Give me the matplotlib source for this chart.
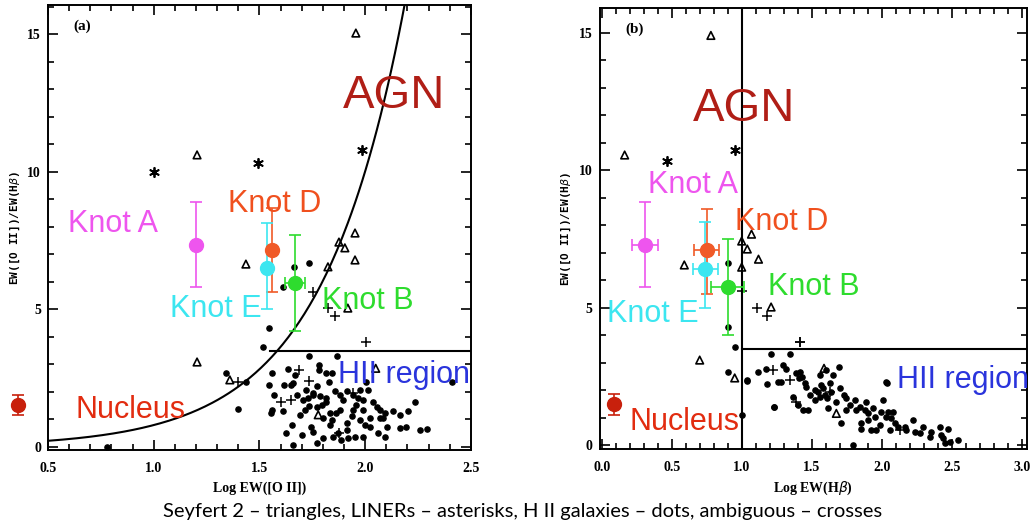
import matplotlib
matplotlib.use("Agg")
import matplotlib.pyplot as plt
import numpy as np
from matplotlib.ticker import MultipleLocator

# ---- panel (a): Log EW([O II]) vs EW([O II])/EW(Hb) ----
a_dots_x = [1.518, 1.736, 1.869, 1.341, 1.436, 1.558, 1.637, 1.547, 1.616, 1.657, 1.668, 1.784, 1.784,
            1.815, 1.842, 1.827, 1.771, 1.720, 1.755, 1.786, 1.817, 1.857, 1.880, 1.912, 1.943, 1.967,
            1.991, 2.014, 2.038, 2.054, 2.069, 2.093, 2.085, 2.132, 2.164, 2.203, 2.235, 2.164, 2.195,
            2.258, 2.293, 2.411, 1.400, 1.558, 1.553, 1.612, 1.707, 1.736, 1.770, 1.794, 1.817, 1.652,
            1.628, 1.699, 1.660, 1.746, 1.754, 1.770, 1.801, 1.833, 1.849, 1.888, 1.912, 1.912, 1.936,
            1.943, 1.959, 1.991, 1.999, 2.022, 1.991, 1.951, 1.920, 2.093, 2.101, 2.006, 1.975, 1.896,
            1.880, 1.864, 1.833, 1.841, 1.801, 1.715, 1.676, 1.647, 1.568, 2.069, 2.062, 2.022, 1.975,
            1.872, 1.691, 1.754, 1.731, 1.545, 1.612, 1.663, 1.734, 0.78]
a_dots_y = [3.63, 3.32, 3.32, 2.70, 2.38, 2.70, 2.83, 2.26, 2.26, 2.32, 2.62, 2.98, 2.80,
            2.68, 2.68, 2.38, 2.20, 2.08, 1.96, 1.84, 1.77, 2.02, 1.90, 2.02, 1.90, 1.77,
            1.71, 2.08, 1.65, 1.47, 1.35, 1.23, 1.05, 1.29, 1.17, 1.29, 1.65, 0.68, 0.74,
            0.62, 0.66, 2.36, 1.37, 1.35, 1.23, 1.29, 1.71, 1.49, 1.47, 1.53, 1.65, 0.80,
            0.50, 0.44, 0.08, 0.74, 0.56, 0.14, 0.32, 0.80, 0.38, 0.26, 0.62, 0.87, 1.11,
            1.35, 1.53, 1.35, 0.80, 0.74, 0.38, 0.38, 0.32, 0.38, 0.74, 2.38, 2.08, 1.71,
            1.35, 1.23, 1.23, 0.99, 1.05, 1.35, 1.89, 2.26, 1.89, 1.05, 0.50, 1.05, 0.99,
            0.50, 1.17, 1.89, 1.77, 4.33, 5.82, 6.55, 6.69, 0.0]
a_tri_x = [1.205, 1.436, 1.824, 1.876, 1.904, 1.952, 1.952, 1.918, 1.956, 1.205, 1.360, 1.778, 2.050]
a_tri_y = [10.62, 6.65, 6.55, 7.45, 7.24, 7.78, 6.80, 5.05, 15.05, 3.09, 2.44, 1.17, 2.86]
a_ast_x = [1.001, 1.493, 1.985]
a_ast_y = [10.0, 10.33, 10.8]
a_crs_x = [1.753, 1.824, 1.857, 2.003, 1.400, 1.685, 1.735, 1.647, 1.600, 1.943, 1.877]
a_crs_y = [5.64, 5.05, 4.76, 3.82, 2.36, 2.80, 2.41, 1.71, 1.62, 1.96, 0.50]

# knots: A, D, E, B, Nucleus
knot_names = ["Knot A", "Knot D", "Knot E", "Knot B", "Nucleus"]
knot_colors = ["#ee55ee", "#f05a28", "#3ce6f0", "#2edc2e", "#c8200c"]
a_knot_x = [1.20, 1.56, 1.535, 1.67, 0.36]
a_knot_y = [7.35, 7.16, 6.5, 5.95, 1.53]
a_knot_ylo = [5.8, 5.65, 5.0, 4.2, 1.16]
a_knot_yhi = [8.9, 8.7, 8.15, 7.7, 1.9]
a_knot_xerr = [0, 0, 0, 0.047, 0]

# ---- panel (b): Log EW(Hb) vs EW([O II])/EW(Hb) ----
b_dots_x = [1.038, 1.212, 1.343, 1.117, 1.176, 1.181, 1.260, 1.284, 1.295, 1.319, 1.391, 1.414, 1.410,
            1.433, 1.450, 1.231, 1.367, 1.403, 1.438, 1.474, 1.486, 1.521, 1.545, 1.557, 1.581, 1.593,
            1.610, 1.629, 1.640, 1.617, 1.557, 1.652, 1.693, 1.700, 1.729, 1.748, 1.676, 1.771, 1.807,
            1.843, 1.879, 1.902, 1.938, 1.950, 1.902, 1.855, 1.855, 1.962, 1.986, 2.009, 2.033, 1.998,
            2.045, 2.033, 2.069, 2.081, 2.093, 2.057, 2.117, 2.164, 2.176, 2.224, 2.236, 2.271, 2.295,
            2.343, 2.355, 2.414, 2.426, 2.438, 2.474, 2.486, 2.545, 2.450, 1.795, 1.712, 1.605, 1.462,
            1.569, 1.521, 1.819, 1.748, 1.890, 1.926, 0.90, 0.90, 0.95, 0.90, 1.04, 1.00, 1.23, 2.04]
b_dots_y = [2.34, 3.30, 3.30, 2.66, 2.75, 2.22, 2.30, 2.30, 2.91, 2.75, 2.63, 2.66, 2.42,
            2.48, 2.27, 1.37, 1.76, 1.45, 1.27, 1.27, 1.82, 2.00, 1.94, 1.76, 2.06, 1.82,
            1.70, 2.24, 1.94, 1.33, 2.54, 2.54, 2.85, 2.06, 1.82, 1.70, 1.57, 1.45, 1.64,
            1.39, 1.27, 1.15, 1.33, 1.03, 0.91, 0.79, 0.60, 0.54, 0.73, 1.64, 2.30, 1.21,
            1.21, 1.03, 0.97, 1.21, 0.79, 0.54, 0.67, 0.67, 0.54, 0.91, 0.48, 0.42, 0.67,
            0.30, 0.48, 0.67, 0.36, 0.24, 0.57, 0.12, 0.18, 0.06, 0.00, 0.79, 2.73, 2.12,
            2.18, 1.64, 1.27, 1.27, 1.57, 0.54, 6.62, 4.29, 3.56, 2.65, 2.36, 1.09, 1.38, 2.25]
b_tri_x = [0.164, 0.78, 1.00, 1.07, 1.04, 1.12, 0.59, 1.00, 1.21, 0.70, 0.95, 1.588, 1.676]
b_tri_y = [10.55, 14.9, 7.42, 7.67, 7.13, 6.76, 6.55, 6.47, 5.02, 3.09, 2.44, 2.79, 1.15]
b_ast_x = [0.47, 0.95]
b_ast_y = [10.33, 10.73]
b_crs_x = [1.11, 1.18, 1.42, 1.00, 1.414, 1.224, 1.343, 1.391, 1.629, 2.128]
b_crs_y = [4.98, 4.69, 3.75, 5.6, 3.73, 2.73, 2.36, 1.57, 1.94, 0.54]

b_knot_x = [0.31, 0.75, 0.74, 0.90, 0.09]
b_knot_y = [7.27, 7.1, 6.4, 5.75, 1.5]
b_knot_ylo = [5.75, 5.5, 5.0, 4.0, 1.1]
b_knot_yhi = [8.84, 8.6, 8.1, 7.5, 1.85]
b_knot_xerr = [0.09, 0.09, 0.09, 0.12, 0]

# region boundaries
curve_x = np.linspace(0.5, 2.2, 200)
curve_a, curve_b, curve_x0 = 1.0, 1.10, 1.09   # y = a * 10**(b*(x - x0))
hii_level = 3.5
b_split_x = 1.0

# label positions: (text, x, y, color, size)
a_labels = [("AGN", 1.895, 12.33, "#b01e16", 34), ("Knot A", 0.595, 7.82, "#ee55ee", 22),
            ("Knot D", 1.351, 8.55, "#f0501e", 22), ("Knot E", 1.077, 4.73, "#3ce6f0", 22),
            ("Knot B", 1.796, 5.02, "#2edc2e", 22), ("HII region", 1.871, 2.33, "#2a34dc", 22),
            ("Nucleus", 0.628, 1.05, "#e22c10", 22)]
b_labels = [("AGN", 0.65, 11.78, "#b01e16", 34), ("Knot A", 0.33, 9.16, "#ee55ee", 22),
            ("Knot D", 0.95, 7.82, "#f0501e", 22), ("Knot E", 0.036, 4.47, "#3ce6f0", 22),
            ("Knot B", 1.19, 5.45, "#2edc2e", 22), ("HII region", 2.11, 2.07, "#2a34dc", 22),
            ("Nucleus", 0.2, 0.55, "#e22c10", 22)]

caption = "Seyfert 2 \u2013 triangles, LINERs \u2013 asterisks, H II galaxies \u2013 dots, ambiguous \u2013 crosses"

fig = plt.figure(figsize=(10.34, 5.26), dpi=100)
ax1 = fig.add_axes([0.0464, 0.1445, 0.409, 0.846])
ax2 = fig.add_axes([0.580, 0.1464, 0.413, 0.838])

tick_font = {"family": "Liberation Serif", "weight": "bold", "size": 10}


def style_axes(ax, xlabel, tag):
    for s in ax.spines.values():
        s.set_linewidth(1.4)
    ax.xaxis.set_major_locator(MultipleLocator(0.5))
    ax.xaxis.set_minor_locator(MultipleLocator(0.1))
    ax.yaxis.set_major_locator(MultipleLocator(5))
    ax.yaxis.set_minor_locator(MultipleLocator(1))
    ax.tick_params(which="both", direction="in", top=True, right=True, width=1.2)
    ax.tick_params(which="major", length=7)
    ax.tick_params(which="minor", length=4)
    ax.tick_params(axis="x", which="major", pad=9)
    ax.tick_params(axis="y", which="major", pad=5)
    for lab in ax.get_xticklabels() + ax.get_yticklabels():
        lab.set_fontproperties(tick_font)
    ax.set_xlabel(xlabel, family="Liberation Serif", weight="bold", size=10, labelpad=4)
    ax.set_ylabel("EW([O II])/EW(H$\\beta$)", family="DejaVu Sans Mono", weight="bold",
                  size=8, labelpad=4)
    ax.text(0.06, 0.945, tag, transform=ax.transAxes, family="Liberation Serif",
            weight="bold", size=11)


def draw_points(ax, dx, dy, tx, ty, sx, sy, cx, cy):
    ax.scatter(dx, dy, s=14, c="black", zorder=3)
    ax.scatter(tx, ty, s=30, marker="^", facecolors="none", edgecolors="black",
               linewidths=1.2, zorder=3)
    ax.scatter(sx, sy, s=45, marker=(6, 2, 0), c="black", linewidths=1.3, zorder=3)
    ax.scatter(cx, cy, s=50, marker="+", c="black", linewidths=1.1, zorder=3)


def draw_knots(ax, kx, ky, klo, khi, kxe):
    for i in range(len(kx)):
        yerr = [[ky[i] - klo[i]], [khi[i] - ky[i]]]
        xerr = kxe[i] if kxe[i] > 0 else None
        ax.errorbar(kx[i], ky[i], yerr=yerr, xerr=xerr, fmt="o", color=knot_colors[i],
                    ms=10, elinewidth=1.2, capsize=4, capthick=1.2, zorder=5, clip_on=False)


# panel (a)
ax1.plot(curve_x, curve_a * 10 ** (curve_b * (curve_x - curve_x0)), color="black", lw=1.5)
ax1.plot([1.55, 2.5], [hii_level, hii_level], color="black", lw=1.5)
draw_points(ax1, a_dots_x, a_dots_y, a_tri_x, a_tri_y, a_ast_x, a_ast_y, a_crs_x, a_crs_y)
draw_knots(ax1, a_knot_x, a_knot_y, a_knot_ylo, a_knot_yhi, a_knot_xerr)
ax1.set_xlim(0.5, 2.5)
ax1.set_ylim(-0.11, 16.07)
style_axes(ax1, "Log EW([O II])", "(a)")
for t, x, y, c, fs in a_labels:
    ax1.text(x, y, t, color=c, fontsize=fs, family="Liberation Sans", zorder=6)

# panel (b)
ax2.axvline(b_split_x, color="black", lw=1.5)
ax2.plot([b_split_x, 3.04], [hii_level, hii_level], color="black", lw=1.5)
draw_points(ax2, b_dots_x, b_dots_y, b_tri_x, b_tri_y, b_ast_x, b_ast_y, b_crs_x, b_crs_y)
draw_knots(ax2, b_knot_x, b_knot_y, b_knot_ylo, b_knot_yhi, b_knot_xerr)
ax2.set_xlim(-0.014, 3.036)
ax2.set_ylim(-0.145, 15.89)
style_axes(ax2, "Log EW(H$\\beta$)", "(b)")
for t, x, y, c, fs in b_labels:
    ax2.text(x, y, t, color=c, fontsize=fs, family="Liberation Sans", zorder=6, clip_on=False)

fig.text(0.505, 1 - 512 / 526, caption, ha="center", va="center", family="Lato", fontsize=14.5)

fig.savefig("out.png", dpi=100)
